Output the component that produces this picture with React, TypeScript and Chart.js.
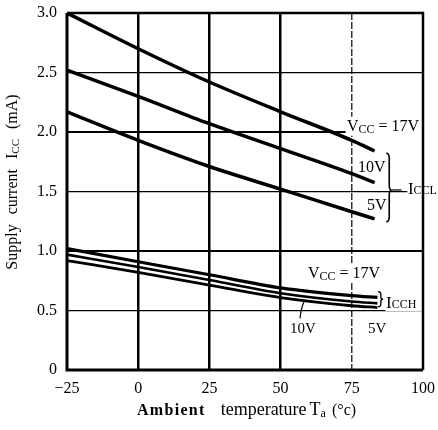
import React, { useEffect, useRef } from "react";
import { Chart, registerables } from "chart.js";

Chart.register(...registerables);

const SERIF = '"Liberation Serif", "DejaVu Serif", serif';

// Ambient temperature Ta (°C)
const tempIccl = [-25, 0, 25, 50, 75, 83];
const tempIcch = [-25, 0, 25, 50, 75, 84];
// ICCL supply current (mA)
const icclVcc17 = [3.0, 2.7, 2.42, 2.17, 1.93, 1.84];
const icclVcc10 = [2.52, 2.3, 2.07, 1.86, 1.65, 1.575];
const icclVcc5 = [2.17, 1.93, 1.71, 1.52, 1.33, 1.27];
// ICCH supply current (mA)
const icchVcc17 = [1.02, 0.91, 0.8, 0.69, 0.625, 0.61];
const icchVcc10 = [0.97, 0.865, 0.756, 0.645, 0.575, 0.56];
const icchVcc5 = [0.92, 0.82, 0.714, 0.608, 0.54, 0.525];

const xTickValues = [-25, 0, 25, 50, 75, 100];
const yTickValues = [0, 0.5, 1.0, 1.5, 2.0, 2.5, 3.0];

type Part = { t: string; sub?: boolean; bold?: boolean; size?: number; ls?: number; gap?: number };

function partFont(p: Part, base: number) {
  const size = p.size ?? (p.sub ? Math.round(base * 0.72) : base);
  return { font: `${p.bold ? "bold " : ""}${size}px ${SERIF}`, size };
}

function richWidth(ctx: CanvasRenderingContext2D, parts: Part[], base: number) {
  let w = 0;
  for (const p of parts) {
    if (p.gap !== undefined) { w += p.gap; continue; }
    const { font } = partFont(p, base);
    ctx.font = font;
    (ctx as any).letterSpacing = `${p.ls ?? 0}px`;
    w += ctx.measureText(p.t).width;
  }
  (ctx as any).letterSpacing = "0px";
  return w;
}

function drawRich(ctx: CanvasRenderingContext2D, x: number, y: number, parts: Part[], base: number) {
  let cx = x;
  ctx.textBaseline = "alphabetic";
  ctx.textAlign = "left";
  for (const p of parts) {
    if (p.gap !== undefined) { cx += p.gap; continue; }
    const { font } = partFont(p, base);
    ctx.font = font;
    (ctx as any).letterSpacing = `${p.ls ?? 0}px`;
    ctx.fillText(p.t, cx, y + (p.sub ? base * 0.12 : 0));
    cx += ctx.measureText(p.t).width;
  }
  (ctx as any).letterSpacing = "0px";
  return cx - x;
}

function brace(ctx: CanvasRenderingContext2D, x0: number, x1: number, yT: number, yM: number, yB: number) {
  const xm = x0 + (x1 - x0) * 0.55;
  const r = Math.min(5, (yM - yT) / 3);
  ctx.beginPath();
  ctx.moveTo(x0, yT);
  ctx.quadraticCurveTo(xm, yT, xm, yT + r);
  ctx.lineTo(xm, yM - r);
  ctx.quadraticCurveTo(xm, yM, x1, yM);
  ctx.quadraticCurveTo(xm, yM, xm, yM + r);
  ctx.lineTo(xm, yB - r);
  ctx.quadraticCurveTo(xm, yB, x0, yB);
  ctx.stroke();
}

const vcc17: Part[] = [{ t: "V" }, { t: "CC", sub: true }, { t: " = 17V" }];

const decor = {
  id: "decor",
  beforeDatasetsDraw(chart: any) {
    const { ctx, chartArea: a, scales } = chart;
    const X = (v: number) => scales.x.getPixelForValue(v);
    const Y = (v: number) => scales.y.getPixelForValue(v);
    ctx.save();
    // dashed 75 °C grid line
    ctx.strokeStyle = "#000";
    ctx.lineWidth = 1.2;
    ctx.setLineDash([7, 2]);
    ctx.beginPath();
    ctx.moveTo(X(75), a.top);
    ctx.lineTo(X(75), a.bottom);
    ctx.stroke();
    ctx.setLineDash([]);
    // white backgrounds behind labels
    ctx.fillStyle = "#fff";
    ctx.fillRect(X(72.8), Y(2.011) - 14, a.right - X(72.8), 19);
    ctx.fillRect(X(77), Y(1.666) - 13, 28, 16);
    ctx.fillRect(X(80), Y(1.345) - 13, 20, 16);
    ctx.fillRect(X(59.2), Y(0.771) - 14, 79, 18);
    ctx.fillRect(X(53), Y(0.313) - 12, 28, 15);
    ctx.fillRect(X(80.3), Y(0.313) - 12, 20, 15);
    ctx.fillRect(X(94.5), Y(1.479) - 13, 40, 16);
    ctx.fillRect(X(86.8), Y(0.521) - 13, 40, 16);
    ctx.restore();
  },
  afterDatasetsDraw(chart: any) {
    const { ctx, chartArea: a, scales } = chart;
    const X = (v: number) => scales.x.getPixelForValue(v);
    const Y = (v: number) => scales.y.getPixelForValue(v);
    ctx.save();
    ctx.fillStyle = "#000";
    ctx.strokeStyle = "#000";
    // upper (ICCL) labels
    drawRich(ctx, X(73.3), Y(2.011), vcc17, 16);
    drawRich(ctx, X(77.2), Y(1.666), [{ t: "10V" }], 16);
    drawRich(ctx, X(80.3), Y(1.345), [{ t: "5V" }], 16);
    ctx.lineWidth = 1.6;
    brace(ctx, X(87.1), X(89.0), Y(1.821), Y(1.513), Y(1.246));
    ctx.lineWidth = 1.2;
    ctx.beginPath();
    ctx.moveTo(X(89.0), Y(1.513));
    ctx.lineTo(X(92.5), Y(1.513));
    ctx.stroke();
    // lower (ICCH) labels
    drawRich(ctx, X(59.6), Y(0.771), vcc17, 16);
    ctx.lineWidth = 1.3;
    brace(ctx, X(84.2), X(86.0), Y(0.658), Y(0.595), Y(0.532));
    drawRich(ctx, X(53.3), Y(0.313), [{ t: "10V" }], 15);
    drawRich(ctx, X(80.7), Y(0.313), [{ t: "5V" }], 15);
    ctx.lineWidth = 1.2;
    ctx.beginPath();
    ctx.moveTo(X(56.8), Y(0.434));
    ctx.quadraticCurveTo(X(57.2), Y(0.52), X(58.3), Y(0.58));
    ctx.stroke();
    // frame
    ctx.lineWidth = 3;
    ctx.beginPath();
    ctx.moveTo(a.left, a.top);
    ctx.lineTo(a.left, a.bottom);
    ctx.lineTo(a.right, a.bottom);
    ctx.stroke();
    ctx.lineWidth = 2.5;
    ctx.beginPath();
    ctx.moveTo(a.left, a.top);
    ctx.lineTo(a.right, a.top);
    ctx.lineTo(a.right, a.bottom);
    ctx.stroke();
    // I_CCL / I_CCH labels (overlapping the frame)
    drawRich(ctx, X(94.7), Y(1.479), [{ t: "I", size: 17 }, { t: "CCL", size: 12 }], 17);
    drawRich(ctx, X(87.0), Y(0.521), [{ t: "I", size: 17 }, { t: "CCH", size: 12 }], 17);
    ctx.restore();
  },
  afterDraw(chart: any) {
    const { ctx } = chart;
    ctx.save();
    ctx.fillStyle = "#000";
    // x-axis title
    const xParts: Part[] = [
      { t: "Ambient", bold: true, size: 16, ls: 1.3 },
      { gap: 15 },
      { t: "temperature", size: 18 },
      { gap: 3 },
      { t: "T", size: 18 },
      { t: "a", size: 12, sub: true },
      { gap: 6 },
      { t: "(°c)", size: 16 },
    ];
    drawRich(ctx, 137, 415, xParts, 18);
    // y-axis title (rotated)
    const yParts: Part[] = [
      { t: "Supply" },
      { gap: 10 },
      { t: "current" },
      { gap: 10 },
      { t: "I" },
      { t: "CC", size: 11, sub: true },
      { gap: 10 },
      { t: "(mA)" },
    ];
    const w = richWidth(ctx, yParts, 16);
    ctx.translate(17, 182);
    ctx.rotate(-Math.PI / 2);
    drawRich(ctx, -w / 2, 0, yParts, 16);
    ctx.restore();
  },
};

export default function App() {
  const ref = useRef<HTMLCanvasElement>(null);
  useEffect(() => {
    const mk = (t: number[], v: number[], w: number) => ({
      data: t.map((x, i) => ({ x, y: v[i] })),
      borderColor: "#000",
      borderWidth: w,
      pointRadius: 0,
      fill: false,
      cubicInterpolationMode: "monotone" as const,
    });
    const chart = new Chart(ref.current!, {
      type: "line",
      data: {
        datasets: [
          { label: "ICCL VCC=17V", ...mk(tempIccl, icclVcc17, 3.5) },
          { label: "ICCL VCC=10V", ...mk(tempIccl, icclVcc10, 3.5) },
          { label: "ICCL VCC=5V", ...mk(tempIccl, icclVcc5, 3.5) },
          { label: "ICCH VCC=17V", ...mk(tempIcch, icchVcc17, 3.2) },
          { label: "ICCH VCC=10V", ...mk(tempIcch, icchVcc10, 2.6) },
          { label: "ICCH VCC=5V", ...mk(tempIcch, icchVcc5, 2.8) },
        ],
      },
      options: {
        animation: false,
        responsive: false,
        devicePixelRatio: 1,
        layout: { padding: { top: 13, right: 15, left: 0, bottom: 0 } },
        plugins: { legend: { display: false }, tooltip: { enabled: false } },
        scales: {
          x: {
            type: "linear",
            min: -25,
            max: 100,
            afterBuildTicks: (s: any) => {
              s.ticks = xTickValues.map((value) => ({ value }));
            },
            afterFit: (s: any) => {
              s.height = 60;
              s.paddingLeft = 0;
              s.paddingRight = 0;
            },
            ticks: {
              color: "#000",
              padding: 9,
              font: { family: SERIF, size: 16 },
              callback: (v: any) => (Number(v) < 0 ? "\u2212" + Math.abs(Number(v)) : String(v)),
            },
            grid: {
              color: "#000",
              drawTicks: false,
              lineWidth: (c: any) => {
                const v = c.tick?.value;
                return v === 0 || v === 25 || v === 50 ? 2.5 : 0;
              },
            },
            border: { display: false },
          },
          y: {
            type: "linear",
            min: 0,
            max: 3,
            afterBuildTicks: (s: any) => {
              s.ticks = yTickValues.map((value) => ({ value }));
            },
            afterFit: (s: any) => {
              s.width = 67;
              s.paddingTop = 0;
              s.paddingBottom = 0;
            },
            ticks: {
              color: "#000",
              padding: 10,
              font: { family: SERIF, size: 16 },
              callback: (v: any) => (Number(v) === 0 ? "0" : Number(v).toFixed(1)),
            },
            grid: {
              color: "#000",
              drawTicks: false,
              lineWidth: (c: any) => {
                const v = c.tick?.value;
                if (v === 1 || v === 2) return 2;
                if (v === 0.5 || v === 1.5 || v === 2.5) return 1.2;
                return 0;
              },
            },
            border: { display: false },
          },
        },
      },
      plugins: [decor],
    });
    return () => chart.destroy();
  }, []);
  return (
    <div style={{ position: "absolute", left: 0, top: 0, width: 438, height: 430, background: "#fff" }}>
      <canvas ref={ref} width={438} height={430} style={{ display: "block" }} />
    </div>
  );
}
